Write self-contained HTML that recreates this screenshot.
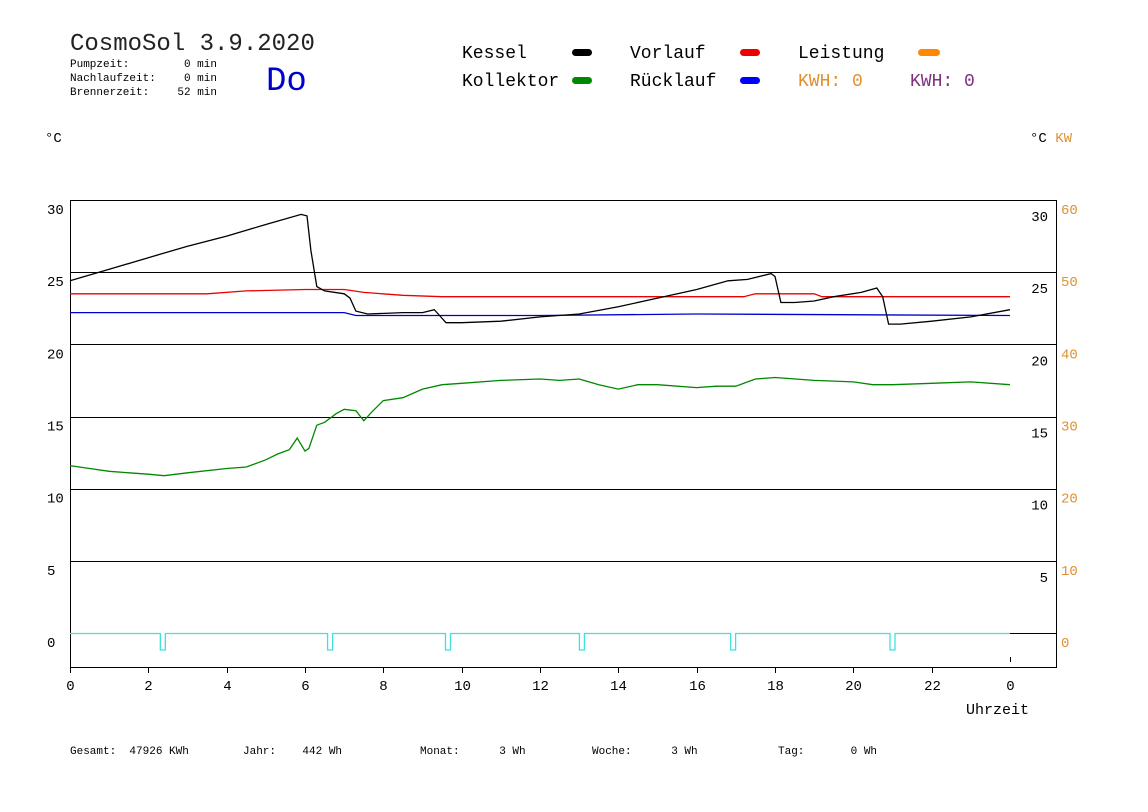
<!DOCTYPE html>
<html><head><meta charset="utf-8"><style>
body{margin:0;background:#fff;width:1148px;height:812px;overflow:hidden}
svg{display:block}
text{font-family:"Liberation Mono",monospace;white-space:pre}
</style></head><body>
<svg id="c" width="1148" height="812">
<text x="70" y="50" font-size="24" fill="#222">CosmoSol 3.9.2020</text>
<g font-size="11" fill="#000">
<text x="70" y="67">Pumpzeit:</text><text x="217" y="67" text-anchor="end">0 min</text>
<text x="70" y="81">Nachlaufzeit:</text><text x="217" y="81" text-anchor="end">0 min</text>
<text x="70" y="95">Brennerzeit:</text><text x="217" y="95" text-anchor="end">52 min</text>
</g>
<text x="266" y="90" font-size="34" fill="#0000cc">Do</text>
<g font-size="18">
<text x="462" y="58">Kessel</text><rect x="572" y="49" width="20" height="7" rx="3.5" fill="#000"/>
<text x="630" y="58">Vorlauf</text><rect x="740" y="49" width="20" height="7" rx="3.5" fill="#e00"/>
<text x="798" y="58">Leistung</text><rect x="918" y="49" width="22" height="7" rx="3.5" fill="#f80"/>
<text x="462" y="86">Kollektor</text><rect x="572" y="77" width="20" height="7" rx="3.5" fill="#080"/>
<text x="630" y="86">Rücklauf</text><rect x="740" y="77" width="20" height="7" rx="3.5" fill="#00f"/>
<text x="798" y="86" fill="#e09030">KWH: 0</text>
<text x="910" y="86" fill="#803080">KWH: 0</text>
</g>
<text x="45" y="142" font-size="14">°C</text>
<text x="1030" y="142" font-size="14">°C <tspan fill="#e09030">KW</tspan></text>
<g id="plot"></g>
<text x="966" y="714" font-size="15">Uhrzeit</text>
<g font-size="11">
<text x="70" y="754">Gesamt:  47926 KWh</text>
<text x="243" y="754">Jahr:    442 Wh</text>
<text x="420" y="754">Monat:      3 Wh</text>
<text x="592" y="754">Woche:      3 Wh</text>
<text x="778" y="754">Tag:       0 Wh</text>
</g>
</svg>
<script>
const xTicks=[0,2,4,6,8,10,12,14,16,18,20,22,24];
const xTickLabels=["0","2","4","6","8","10","12","14","16","18","20","22","0"];
const yTicks=[0,5,10,15,20,25,30];
const kwTicks=[0,10,20,30,40,50,60];
const kesselT=[0,1,2,3,4,5,5.9,6.05,6.15,6.3,6.5,7.0,7.15,7.3,7.6,8.5,9.0,9.3,9.4,9.6,10,11,12,13,14,15,16,16.8,17.3,17.9,18.0,18.15,18.5,19,19.5,20.2,20.6,20.75,20.9,21.2,22,23,24];
const kesselV=[24.4,25.2,26.0,26.8,27.5,28.3,29.0,28.9,26.5,24.0,23.7,23.5,23.2,22.3,22.1,22.2,22.2,22.4,22.1,21.5,21.5,21.6,21.9,22.1,22.6,23.2,23.8,24.4,24.5,24.9,24.7,22.9,22.9,23.0,23.3,23.6,23.9,23.3,21.4,21.4,21.6,21.9,22.4];
const vorlaufT=[0,3.5,4.5,6,7,7.5,8.5,9.5,12,17.2,17.5,19,19.2,21,24];
const vorlaufV=[23.5,23.5,23.7,23.8,23.8,23.6,23.4,23.3,23.3,23.3,23.5,23.5,23.3,23.3,23.3];
const ruecklaufT=[0,7.0,7.3,9,12,16,24];
const ruecklaufV=[22.2,22.2,22.0,22.0,22.0,22.1,22.0];
const kollektorT=[0,0.5,1,1.5,2,2.4,3,4,4.5,5,5.3,5.6,5.8,6.0,6.1,6.3,6.5,6.8,7.0,7.3,7.5,7.7,8,8.5,9,9.5,10,11,12,12.5,13,13.5,14,14.5,15,16,16.5,17,17.5,18,19,20,20.5,21,22,23,24];
const kollektorV=[11.6,11.4,11.2,11.1,11.0,10.9,11.1,11.4,11.5,12.0,12.4,12.7,13.5,12.6,12.8,14.4,14.6,15.2,15.5,15.4,14.7,15.3,16.1,16.3,16.9,17.2,17.3,17.5,17.6,17.5,17.6,17.2,16.9,17.2,17.2,17.0,17.1,17.1,17.6,17.7,17.5,17.4,17.2,17.2,17.3,17.4,17.2];
const pumpT=[2.37,6.64,9.65,13.07,16.93,21.0];
const NS="http://www.w3.org/2000/svg";
const X0=70,X1=1010,Y0=633,YT=200;
const xs=h=>X0+h*(X1-X0)/24;
const ys=v=>Y0-v*(Y0-YT)/30;
const g=document.getElementById('plot');
function el(t,a){const e=document.createElementNS(NS,t);for(const k in a)e.setAttribute(k,a[k]);g.appendChild(e);return e;}
const fr=el('rect',{x:70.5,y:200.5,width:986,height:467,fill:'none',stroke:'#000'});


yTicks.forEach((v,i)=>{
 if(v>0&&v<30){const l=el('line',{x1:70,x2:1057,y1:Math.round(ys(v))+.5,y2:Math.round(ys(v))+.5,stroke:'#000'});
 
 }
 const t=el('text',{x:47,y:ys(v)+14,'font-size':14});t.textContent=v;
 
 
 if(v>0){const r=el('text',{x:1048,y:ys(v)+21,'font-size':14,'text-anchor':'end'});r.textContent=v;
 
 }
 const k=el('text',{x:1061,y:ys(v)+14,'font-size':14,fill:'#e09030'});k.textContent=kwTicks[i];
 
 
});
el('line',{x1:1010,x2:1057,y1:633.5,y2:633.5,stroke:'#000'});
xTicks.forEach((h,i)=>{
 const x=Math.round(xs(h))+.5;
 el('line',{x1:x,x2:x,y1:i==12?657:667,y2:i==12?662:673,stroke:'#000'});
 const t=el('text',{x:x,y:690,'font-size':14,'text-anchor':'middle'});t.textContent=xTickLabels[i];
 
 
});
function series(T,V,col,name){
 let d='';T.forEach((t,i)=>{d+=(i?'L':'M')+xs(t).toFixed(1)+' '+ys(V[i]).toFixed(1);});
 const p=el('path',{d:d,fill:'none',stroke:col,'stroke-width':1.3});
 
 
}
series(vorlaufT,vorlaufV,'#e00','vorlauf-line');
series(ruecklaufT,ruecklaufV,'#00c','ruecklauf-line');
series(kollektorT,kollektorV,'#080','kollektor-line');
series(kesselT,kesselV,'#000','kessel-line');
let d='M'+xs(0)+' '+(Y0+.5);
pumpT.forEach(t=>{const x=xs(t);d+=`L${x-2.5} ${Y0+.5}L${x-2.5} 650L${x+2.5} 650L${x+2.5} ${Y0+.5}`;});
d+='L'+xs(24)+' '+(Y0+.5);
const pp=el('path',{d:d,fill:'none',stroke:'#40e0e0','stroke-width':1.3});


</script>
</body></html>
